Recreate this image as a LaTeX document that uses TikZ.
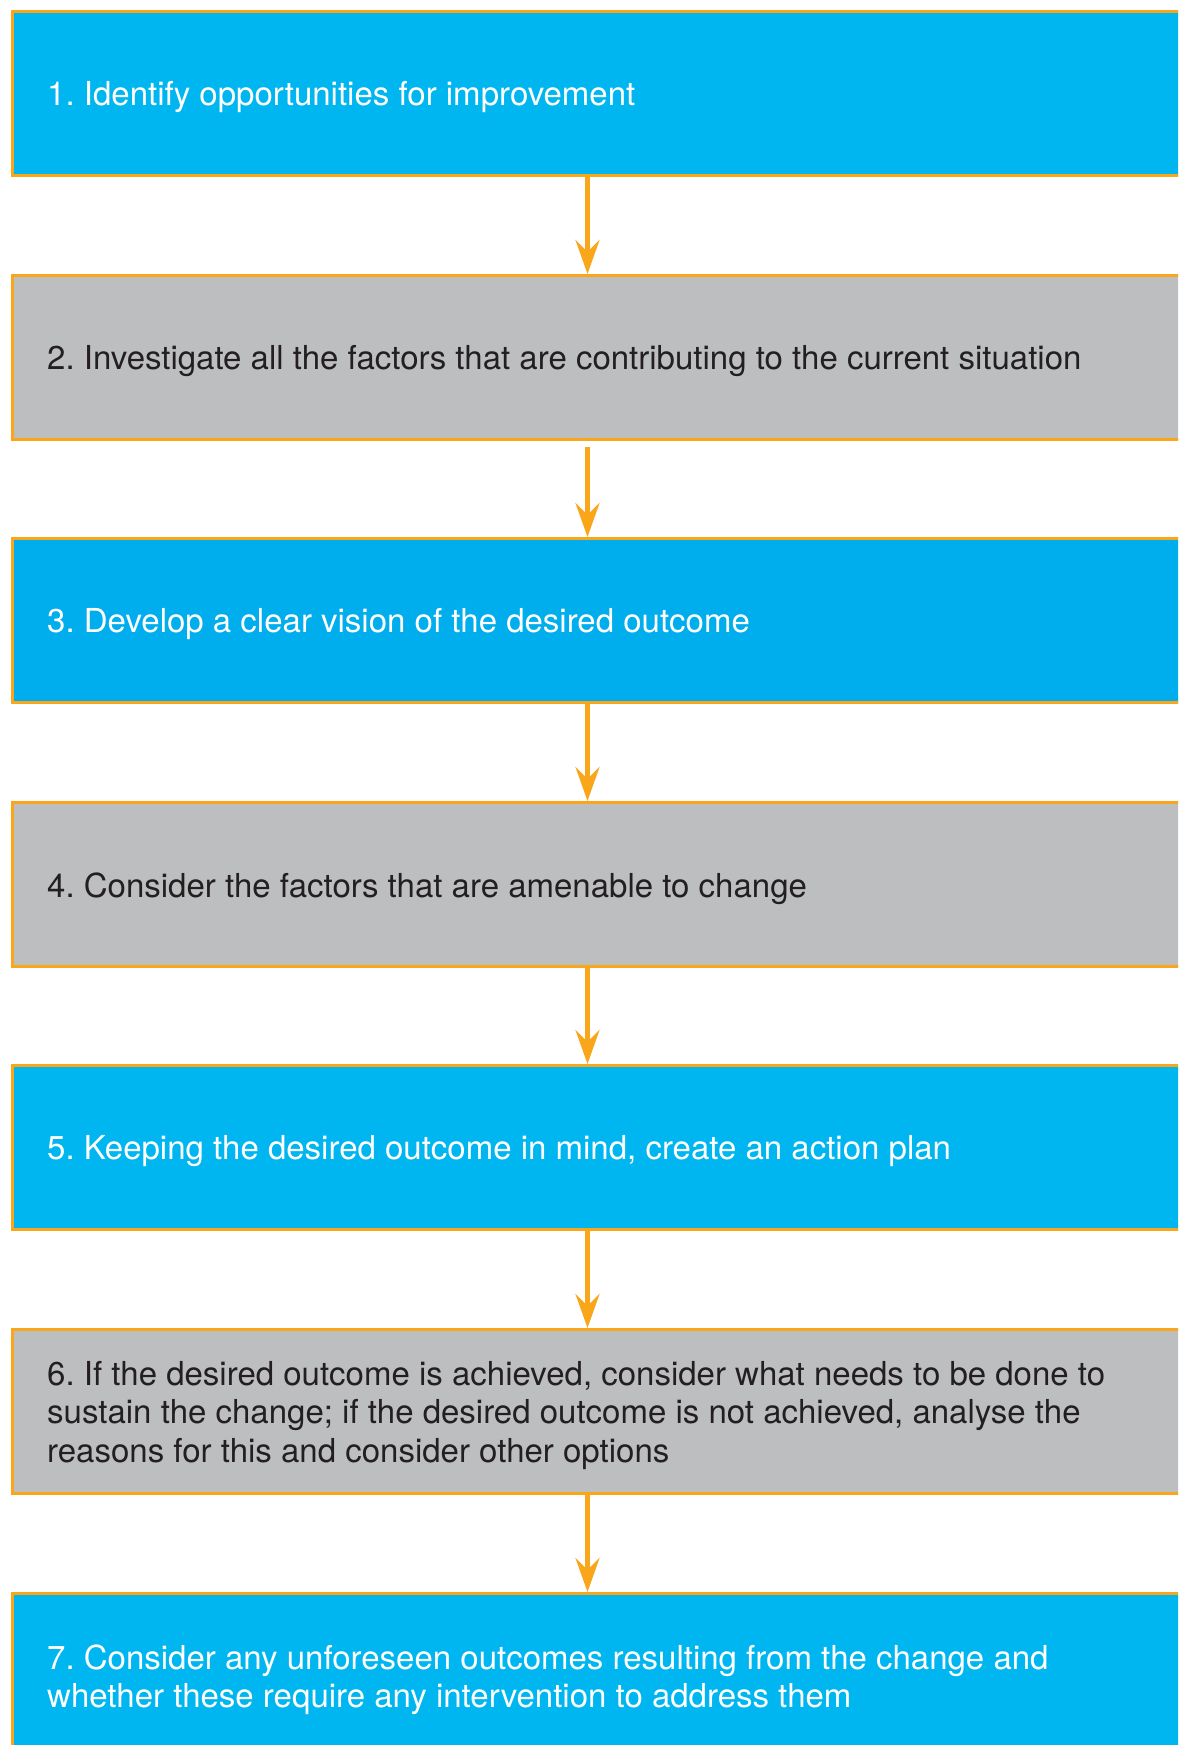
\documentclass[tikz,border=0pt]{standalone}
\usepackage{fontspec}
\setmainfont{TeX Gyre Heros}
\usetikzlibrary{arrows.meta}
\definecolor{blueA}{HTML}{00B6F0}
\definecolor{blueB}{HTML}{00ADED}
\definecolor{greyA}{HTML}{BDBEC0}
\definecolor{orangeA}{HTML}{F9A61B}
\definecolor{darktext}{HTML}{231F20}
\frenchspacing
\begin{document}
\begin{tikzpicture}[x=1pt,y=-1pt,
  stepbox/.style={draw=orangeA, line width=3pt, anchor=north west,
    minimum height=164pt, minimum width=1200pt, inner sep=0pt},
  bluebox/.style={stepbox, fill=blueA},
  greybox/.style={stepbox, fill=greyA},
  steptext/.style={anchor=west, inner sep=0pt, align=left,
    font=\fontsize{33}{38.5}\selectfont},
  whitetext/.style={steptext, text=white},
  darkstext/.style={steptext, text=darktext},
  flow/.style={draw=orangeA, line width=5pt, -{Stealth[length=34pt, width=24pt, inset=12pt]}}
]
\clip (0,0) rectangle (1178,1745);
\fill[white] (0,0) rectangle (1178,1745);
\node[bluebox] (b1) at (11,10) {};
\node[greybox] (b2) at (11,274) {};
\node[bluebox, fill=blueB] (b3) at (11,537) {};
\node[greybox] (b4) at (11,801) {};
\node[bluebox] (b5) at (11,1064) {};
\node[greybox] (b6) at (11,1328) {};
\node[bluebox] (b7) at (11,1592) {};
\node[whitetext] (t1) at ([xshift=36pt,yshift=-4pt]b1.west) {1. Identify opportunities for improvement};
\node[darkstext] (t2) at ([xshift=36pt,yshift=-4pt]b2.west) {2. Investigate all the factors that are contributing to the current situation};
\node[whitetext] (t3) at ([xshift=36pt,yshift=-4pt]b3.west) {3. Develop a clear vision of the desired outcome};
\node[darkstext] (t4) at ([xshift=36pt,yshift=-4pt]b4.west) {4. Consider the factors that are amenable to change};
\node[whitetext] (t5) at ([xshift=36pt,yshift=-4pt]b5.west) {5. Keeping the desired outcome in mind, create an action plan};
\node[darkstext] (t6) at ([xshift=36pt,yshift=-4pt]b6.west) {6. If the desired outcome is achieved, consider what needs to be done to\\ sustain the change; if the desired outcome is not achieved, analyse the\\ reasons for this and consider other options};
\node[whitetext] (t7) at ([xshift=36pt,yshift=-4pt]b7.west) {7. Consider any unforeseen outcomes resulting from the change and\\ whether these require any intervention to address them};
\draw[flow] ([xshift=-25pt]b1.south) -- ([xshift=-25pt]b2.north);
\draw[flow] ([xshift=-25pt,yshift=-6pt]b2.south) -- ([xshift=-25pt]b3.north);
\draw[flow] ([xshift=-25pt]b3.south) -- ([xshift=-25pt]b4.north);
\draw[flow] ([xshift=-25pt]b4.south) -- ([xshift=-25pt]b5.north);
\draw[flow] ([xshift=-25pt]b5.south) -- ([xshift=-25pt]b6.north);
\draw[flow] ([xshift=-25pt]b6.south) -- ([xshift=-25pt]b7.north);
\end{tikzpicture}
\end{document}
